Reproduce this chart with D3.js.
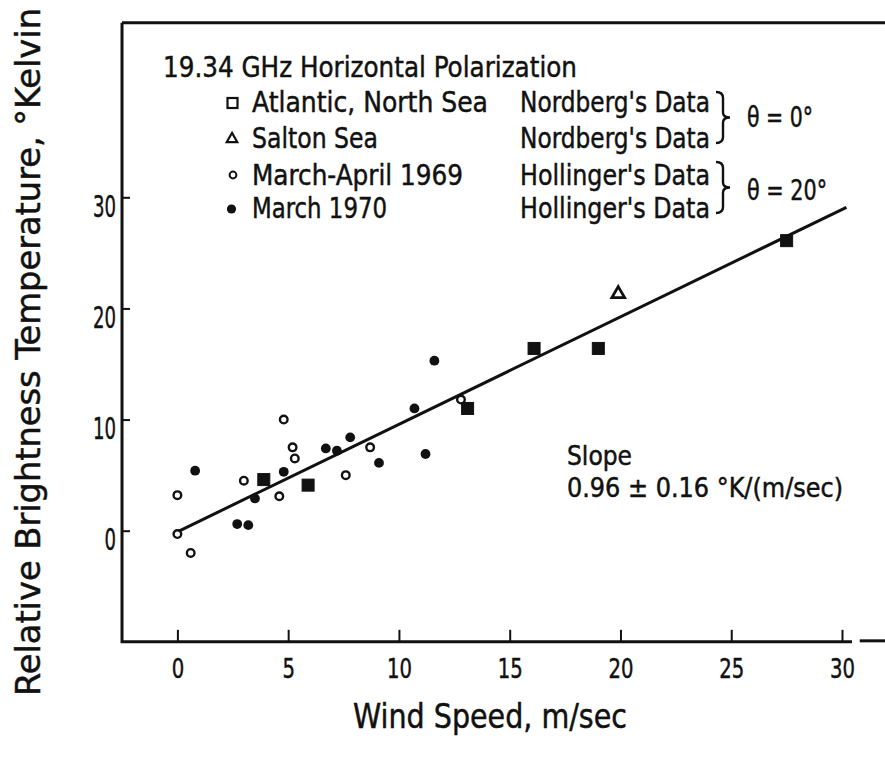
<!DOCTYPE html>
<html>
<head>
<meta charset="utf-8">
<script src="https://cdn.jsdelivr.net/npm/d3@7"></script>
<style>
  html, body { margin: 0; padding: 0; background: #fff; }
  svg { display: block; }
  text { font-family: "DejaVu Sans Condensed", "Liberation Sans Narrow", "DejaVu Sans", sans-serif; fill: #111; stroke: #111; stroke-width: 0.45; }
</style>
</head>
<body>
<svg id="chart" width="885" height="758"></svg>
<script>
// Tick values
const xTicks = [0, 5, 10, 15, 20, 25, 30];
const yTicks = [0, 10, 20, 30];

// Atlantic, North Sea (Nordberg, theta = 0)
const atlanticX = [3.9, 5.9, 13.1, 16.1, 19.0, 27.5];
const atlanticY = [4.6, 4.1, 11.0, 16.4, 16.4, 26.1];

// Salton Sea (Nordberg, theta = 0)
const saltonX = [19.9];
const saltonY = [21.3];

// March-April 1969 (Hollinger, theta = 20)
const mar1969X = [0.0, 0.0, 0.6, 3.0, 4.6, 4.8, 5.2, 5.3, 7.6, 8.7, 12.8];
const mar1969Y = [3.2, -0.3, -2.0, 4.5, 3.1, 10.0, 7.5, 6.5, 5.0, 7.5, 11.8];

// March 1970 (Hollinger, theta = 20)
const mar1970X = [0.8, 2.7, 3.2, 3.5, 4.8, 6.7, 7.2, 7.8, 9.1, 10.7, 11.2, 11.6];
const mar1970Y = [5.4, 0.6, 0.5, 2.9, 5.3, 7.4, 7.2, 8.4, 6.1, 11.0, 6.9, 15.3];

// Fitted line end points
const fitX = [0, 30.2];
const fitY = [-0.1, 29.1];

// Legend text
const legendTitle = "19.34 GHz Horizontal Polarization";
const legendLabels = ["Atlantic, North Sea", "Salton Sea", "March-April 1969", "March 1970"];
const legendSources = ["Nordberg's Data", "Nordberg's Data", "Hollinger's Data", "Hollinger's Data"];
const angleLabels = ["\u03B8 = 0\u00B0", "\u03B8 = 20\u00B0"];
const slopeLines = ["Slope", "0.96 \u00B1 0.16 \u00B0K/(m/sec)"];
const xTitle = "Wind Speed,  m/sec";
const yTitle = "Relative Brightness Temperature,  \u00B0Kelvin";

const svg = d3.select("#chart");
svg.append("rect").attr("width", 885).attr("height", 758).attr("fill", "#fff");

const x = d3.scaleLinear().domain([0, 30]).range([177.4, 842]);
const y = d3.scaleLinear().domain([0, 30]).range([530.7, 197.3]);

const frameLeft = x(-2.5);
const frameBottom = y(-10);
const frameTop = y(45.7);

const zip = (a, b) => a.map((v, i) => [v, b[i]]);

// Frame: left axis, top rule, bottom axis
const frame = svg.append("g").attr("stroke", "#111").attr("stroke-width", 3).attr("fill", "none");
frame.append("path").attr("d", `M${frameLeft},${frameTop}V${frameBottom}H${x(30.45)}`);
frame.append("path").attr("d", `M${x(30.8)},${frameBottom - 1}H885`);
frame.append("path").attr("d", `M${frameLeft},${frameTop}H885`);

// X axis
const gx = svg.append("g")
  .attr("transform", `translate(0,${frameBottom})`)
  .call(d3.axisBottom(x).tickValues(xTicks).tickSize(-12).tickPadding(17).tickFormat(d3.format("d")));
gx.select(".domain").remove();
gx.selectAll(".tick line").attr("stroke", "#111").attr("stroke-width", 2);
gx.selectAll(".tick text")
  .attr("font-size", 27)
  .attr("font-family", null)
  .attr("fill", "#111")
  .attr("textLength", d => String(d).length * 12.5)
  .attr("lengthAdjust", "spacingAndGlyphs");

// Y axis
const gy = svg.append("g")
  .attr("transform", `translate(${frameLeft},0)`)
  .call(d3.axisLeft(y).tickValues(yTicks).tickSize(-8).tickPadding(6).tickFormat(d3.format("d")));
gy.select(".domain").remove();
gy.selectAll(".tick line").attr("stroke", "#111").attr("stroke-width", 2);
gy.selectAll(".tick text")
  .attr("font-size", 31)
  .attr("font-family", null)
  .attr("fill", "#111")
  .attr("dy", "0.62em")
  .attr("textLength", d => String(d).length * 11.5)
  .attr("lengthAdjust", "spacingAndGlyphs");

// Fitted line
svg.append("path")
  .datum(zip(fitX, fitY))
  .attr("fill", "none")
  .attr("stroke", "#111")
  .attr("stroke-width", 3)
  .attr("d", d3.line().x(d => x(d[0])).y(d => y(d[1])));

// Data marks
const marks = svg.append("g");

marks.selectAll(".open69")
  .data(zip(mar1969X, mar1969Y))
  .join("circle")
  .attr("cx", d => x(d[0])).attr("cy", d => y(d[1]))
  .attr("r", 3.8)
  .attr("fill", "#fff").attr("stroke", "#111").attr("stroke-width", 2.4);

marks.selectAll(".fill70")
  .data(zip(mar1970X, mar1970Y))
  .join("circle")
  .attr("cx", d => x(d[0])).attr("cy", d => y(d[1]))
  .attr("r", 4.9)
  .attr("fill", "#111");

marks.selectAll(".atl")
  .data(zip(atlanticX, atlanticY))
  .join("rect")
  .attr("x", d => x(d[0]) - 6).attr("y", d => y(d[1]) - 6)
  .attr("width", 12).attr("height", 12)
  .attr("fill", "#111").attr("stroke", "#111").attr("stroke-width", 1);

marks.selectAll(".salton")
  .data(zip(saltonX, saltonY))
  .join("path")
  .attr("transform", d => `translate(${x(d[0])},${y(d[1])})`)
  .attr("d", d3.symbol(d3.symbolTriangle, 70))
  .attr("fill", "#fff").attr("stroke", "#111").attr("stroke-width", 2.8);

// Legend
const legend = svg.append("g");
legend.append("text")
  .attr("x", 163).attr("y", 77)
  .attr("font-size", 29)
  .attr("textLength", 414).attr("lengthAdjust", "spacingAndGlyphs")
  .text(legendTitle);

const rowBase = [112, 148, 185, 218];
const labelWidths = [236, 126, 211, 135];
legendLabels.forEach((t, i) => {
  legend.append("text")
    .attr("x", 252).attr("y", rowBase[i])
    .attr("font-size", 29)
    .attr("textLength", labelWidths[i]).attr("lengthAdjust", "spacingAndGlyphs")
    .text(t);
  legend.append("text")
    .attr("x", 520).attr("y", rowBase[i])
    .attr("font-size", 29)
    .attr("textLength", 190).attr("lengthAdjust", "spacingAndGlyphs")
    .text(legendSources[i]);
});

// Legend symbols
legend.append("rect").attr("x", 227.5).attr("y", 98).attr("width", 10).attr("height", 10)
  .attr("fill", "#fff").attr("stroke", "#111").attr("stroke-width", 2.2);
legend.append("path").attr("transform", "translate(232,139)")
  .attr("d", d3.symbol(d3.symbolTriangle, 48))
  .attr("fill", "#fff").attr("stroke", "#111").attr("stroke-width", 2.2);
legend.append("circle").attr("cx", 233).attr("cy", 175).attr("r", 3.4)
  .attr("fill", "#fff").attr("stroke", "#111").attr("stroke-width", 2);
legend.append("circle").attr("cx", 231.5).attr("cy", 209).attr("r", 4.6)
  .attr("fill", "#111");

// Braces grouping the rows by incidence angle
const brace = (top, bot, xl, xr) => {
  const mid = (top + bot) / 2, xm = (xl + xr) / 2;
  return `M${xl},${top} Q${xm},${top} ${xm},${top + 6} V${mid - 5} Q${xm},${mid} ${xr},${mid}` +
         ` Q${xm},${mid} ${xm},${mid + 5} V${bot - 6} Q${xm},${bot} ${xl},${bot}`;
};
legend.append("path").attr("d", brace(92, 143, 716, 730))
  .attr("fill", "none").attr("stroke", "#111").attr("stroke-width", 2.4);
legend.append("path").attr("d", brace(162, 213, 716, 730))
  .attr("fill", "none").attr("stroke", "#111").attr("stroke-width", 2.4);

legend.append("text").attr("x", 747).attr("y", 127).attr("font-size", 28)
  .attr("textLength", 66).attr("lengthAdjust", "spacingAndGlyphs").text(angleLabels[0]);
legend.append("text").attr("x", 747).attr("y", 200).attr("font-size", 28)
  .attr("textLength", 80).attr("lengthAdjust", "spacingAndGlyphs").text(angleLabels[1]);

// Slope annotation
svg.append("text").attr("x", 567).attr("y", 465).attr("font-size", 27)
  .attr("textLength", 65).attr("lengthAdjust", "spacingAndGlyphs").text(slopeLines[0]);
svg.append("text").attr("x", 567).attr("y", 497).attr("font-size", 26)
  .attr("textLength", 276).attr("lengthAdjust", "spacingAndGlyphs").text(slopeLines[1]);

// Axis titles
svg.append("text")
  .attr("x", 490).attr("y", 728)
  .attr("text-anchor", "middle")
  .attr("font-size", 34)
  .attr("textLength", 274).attr("lengthAdjust", "spacingAndGlyphs")
  .text(xTitle);

svg.append("text")
  .attr("transform", "translate(40,352) rotate(-90)")
  .attr("text-anchor", "middle")
  .attr("font-size", 34)
  .attr("textLength", 688).attr("lengthAdjust", "spacingAndGlyphs")
  .text(yTitle);
</script>
</body>
</html>
